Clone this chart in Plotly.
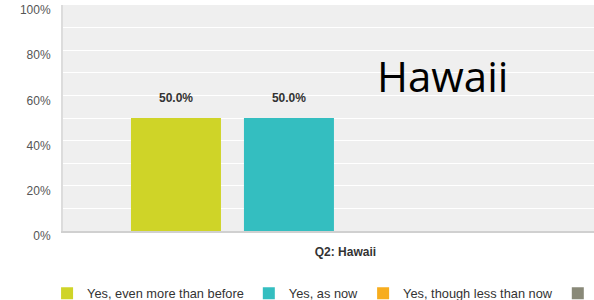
import plotly.graph_objects as go

categories = ["Q2: Hawaii"]
series_names = ["Yes, even more than before", "Yes, as now", "Yes, though less than now", "No"]
series_values = [[50.0], [50.0], [0.0], [0.0]]
series_colors = ["#cfd428", "#34bec0", "#f7ad1e", "#898978"]
y_ticks = [0, 20, 40, 60, 80, 100]
y_tick_labels = ["0%", "20%", "40%", "60%", "80%", "100%"]
title_text = "Hawaii"

fig = go.Figure()
for name, vals, col in zip(series_names, series_values, series_colors):
    fig.add_trace(go.Bar(
        x=categories, y=vals, name=name, marker=dict(color=col, line=dict(width=0)),
        hoverinfo="x+y+name",
    ))
# value labels above the bars, aligned with the bar groups
for name, vals in zip(series_names, series_values):
    fig.add_trace(go.Scatter(
        x=categories, y=vals, mode="markers+text", showlegend=False, hoverinfo="skip",
        text=[("%.1f%%" % v) if v > 0 else "" for v in vals],
        textposition="top center", cliponaxis=False,
        marker=dict(size=20, opacity=0),
        textfont=dict(family="Arial", size=12, color="#333333", weight="bold"),
    ))

fig.update_layout(
    width=594, height=300,
    margin=dict(l=63, r=0, t=5, b=69, autoexpand=False),
    paper_bgcolor="white", plot_bgcolor="#efefef",
    barmode="group", bargap=0.2, bargroupgap=0.2035,
    scattermode="group", scattergap=0.2,
    font=dict(family="Arial", size=12, color="#333333"),
    showlegend=True,
    legend=dict(orientation="h", x=-0.03, xanchor="left", y=-0.21, yanchor="top",
                font=dict(family="Arial", size=12.8, color="#333333"),
                bgcolor="rgba(0,0,0,0)", traceorder="normal"),
    annotations=[dict(text=title_text, xref="paper", yref="paper", x=0.7156, y=0.689,
                      xanchor="center", yanchor="middle", showarrow=False,
                      font=dict(family="Open Sans", size=42, color="#000000"))],
)
fig.update_xaxes(type="category", range=[-0.5, 0.44], showgrid=False, showline=True,
                 linecolor="#d0d0d0", linewidth=1.5, ticks="", ticklabelstandoff=9,
                 tickfont=dict(family="Arial", size=12, color="#333333", weight="bold"))
fig.update_yaxes(range=[0, 100], tickvals=y_ticks, ticktext=y_tick_labels,
                 showgrid=True, gridcolor="#ffffff", gridwidth=1,
                 minor=dict(dtick=10, showgrid=True, gridcolor="#ffffff", gridwidth=1),
                 showline=True, linecolor="#dcdcdc", linewidth=2, zeroline=False,
                 ticks="", ticklabelstandoff=8, ticklabelshift=5,
                 tickfont=dict(family="Arial", size=12, color="#555555"))

fig.write_html("out.html", config={"displayModeBar": False},
               post_script="document.body.style.margin='0px';")
